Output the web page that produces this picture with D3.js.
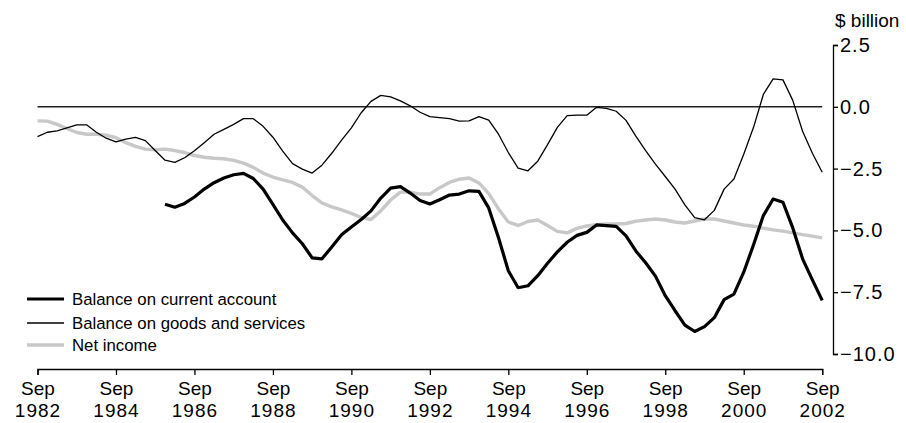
<!DOCTYPE html>
<html>
<head>
<meta charset="utf-8">
<script src="https://cdn.jsdelivr.net/npm/d3@7"></script>
<style>
  body { margin: 0; background: #fff; }
  svg { display: block; }
  text { font-family: "Liberation Sans", Arial, sans-serif; fill: #000; }
</style>
</head>
<body>
<svg id="chart" width="906" height="423"></svg>
<script>
// Quarterly data, Sep 1982 .. Sep 2002 (81 quarters)
const startYear = 1982.75;
const goodsServices = [-1.21,-1.03,-0.97,-0.85,-0.73,-0.73,-1.03,-1.27,-1.42,-1.31,-1.24,-1.37,-1.77,-2.16,-2.25,-2.06,-1.78,-1.45,-1.11,-0.91,-0.71,-0.48,-0.48,-0.79,-1.23,-1.79,-2.30,-2.52,-2.68,-2.36,-1.88,-1.35,-0.85,-0.24,0.22,0.46,0.40,0.24,0.04,-0.22,-0.40,-0.44,-0.48,-0.58,-0.57,-0.40,-0.54,-1.11,-1.85,-2.48,-2.59,-2.20,-1.53,-0.83,-0.36,-0.34,-0.34,-0.02,-0.06,-0.18,-0.55,-1.19,-1.77,-2.32,-2.82,-3.33,-3.97,-4.48,-4.57,-4.19,-3.33,-2.92,-1.92,-0.83,0.50,1.13,1.09,0.26,-0.99,-1.88,-2.65];
// Current account starts Dec 1985 (quarter index 13)
const currentAccountStart = 13;
const currentAccount = [-3.94,-4.06,-3.91,-3.65,-3.33,-3.07,-2.88,-2.75,-2.69,-2.90,-3.33,-3.95,-4.58,-5.10,-5.54,-6.11,-6.15,-5.67,-5.18,-4.86,-4.56,-4.21,-3.69,-3.29,-3.23,-3.49,-3.79,-3.93,-3.76,-3.57,-3.53,-3.40,-3.42,-4.09,-5.30,-6.63,-7.32,-7.24,-6.83,-6.33,-5.87,-5.48,-5.20,-5.08,-4.78,-4.81,-4.84,-5.22,-5.83,-6.31,-6.85,-7.64,-8.25,-8.83,-9.09,-8.89,-8.53,-7.80,-7.58,-6.69,-5.58,-4.40,-3.73,-3.86,-4.90,-6.15,-7.00,-7.83];
const netIncome = [-0.57,-0.58,-0.71,-0.88,-1.04,-1.11,-1.11,-1.15,-1.25,-1.45,-1.60,-1.71,-1.74,-1.71,-1.77,-1.85,-1.97,-2.04,-2.08,-2.10,-2.17,-2.28,-2.45,-2.68,-2.84,-2.96,-3.06,-3.25,-3.59,-3.89,-4.05,-4.17,-4.31,-4.48,-4.56,-4.21,-3.77,-3.45,-3.45,-3.53,-3.53,-3.27,-3.06,-2.93,-2.88,-3.08,-3.51,-4.13,-4.66,-4.80,-4.64,-4.58,-4.80,-5.04,-5.10,-4.92,-4.82,-4.77,-4.74,-4.74,-4.72,-4.63,-4.58,-4.54,-4.58,-4.66,-4.70,-4.62,-4.54,-4.54,-4.62,-4.70,-4.78,-4.83,-4.91,-4.98,-5.03,-5.10,-5.17,-5.23,-5.30];
const xTickYears = [1982,1984,1986,1988,1990,1992,1994,1996,1998,2000,2002];
const yTicks = [2.5, 0, -2.5, -5, -7.5, -10];
const legendLabels = ["Balance on current account","Balance on goods and services","Net income"];
const unitLabel = "$ billion";

const svg = d3.select("#chart");
const x = d3.scaleLinear().domain([1982.75, 2002.75]).range([37.5, 822.2]);
const y = d3.scaleLinear().domain([-10, 2.5]).range([354, 45]);

const toPts = (arr, offset) => arr.map((v, i) => ({t: startYear + (i + offset) * 0.25, v}));
const line = d3.line().x(d => x(d.t)).y(d => y(d.v));

// zero line
svg.append("line")
  .attr("x1", x(1982.75)).attr("x2", x(2002.75))
  .attr("y1", y(0)).attr("y2", y(0))
  .attr("stroke", "#222").attr("stroke-width", 1.6);

// series
svg.append("path").datum(toPts(netIncome, 0)).attr("d", line)
  .attr("fill", "none").attr("stroke", "#c8c8c8").attr("stroke-width", 3.4).attr("stroke-linejoin", "round");
svg.append("path").datum(toPts(goodsServices, 0)).attr("d", line)
  .attr("fill", "none").attr("stroke", "#000").attr("stroke-width", 1.3).attr("stroke-linejoin", "round");
svg.append("path").datum(toPts(currentAccount, currentAccountStart)).attr("d", line)
  .attr("fill", "none").attr("stroke", "#000").attr("stroke-width", 3.2).attr("stroke-linejoin", "round");

// x axis
const xAxis = svg.append("g").attr("transform", "translate(0,369)")
  .call(d3.axisBottom(x).tickValues(xTickYears.map(yr => yr + 0.75)).tickSize(6).tickSizeOuter(6).tickFormat(""));
xAxis.select(".domain").attr("stroke", "#000").attr("stroke-width", 1.3);
xAxis.selectAll(".tick line").attr("stroke", "#000").attr("stroke-width", 1.3);
xAxis.selectAll(".tick").each(function(d) {
  const g = d3.select(this);
  const yr = Math.floor(d);
  const t = g.append("text").attr("text-anchor", "middle").style("font-size", "19px").attr("fill", "#000");
  t.append("tspan").attr("x", 0).attr("y", 26).text("Sep");
  t.append("tspan").attr("x", 0).attr("y", 48).style("letter-spacing", "1px").text(yr);
});

// y axis (right)
const yAxis = svg.append("g").attr("transform", "translate(833,0)")
  .call(d3.axisRight(y).tickValues(yTicks).tickSize(5).tickSizeOuter(5).tickPadding(2)
    .tickFormat(d => d3.format(".1f")(d).replace("-", "\u2212")));
yAxis.select(".domain").attr("stroke", "#000").attr("stroke-width", 1.3);
yAxis.selectAll(".tick line").attr("stroke", "#000").attr("stroke-width", 1.3);
yAxis.selectAll(".tick text").style("font-size", "20px").style("letter-spacing", "1px").attr("fill", "#000")
  .style("font-family", "'Liberation Sans', Arial, sans-serif");

svg.append("text").attr("x", 835).attr("y", 27).style("font-size", "19px").text(unitLabel);

// legend
const legendStyles = [
  {stroke: "#000", w: 3.2},
  {stroke: "#000", w: 1.3},
  {stroke: "#c8c8c8", w: 3.4}
];
const legendY = [299, 323, 345];
legendLabels.forEach((lab, i) => {
  svg.append("line").attr("x1", 27).attr("x2", 64).attr("y1", legendY[i]).attr("y2", legendY[i])
    .attr("stroke", legendStyles[i].stroke).attr("stroke-width", legendStyles[i].w);
  svg.append("text").attr("x", 72).attr("y", legendY[i] + 6).style("font-size", "16.8px").text(lab);
});
</script>
</body>
</html>
